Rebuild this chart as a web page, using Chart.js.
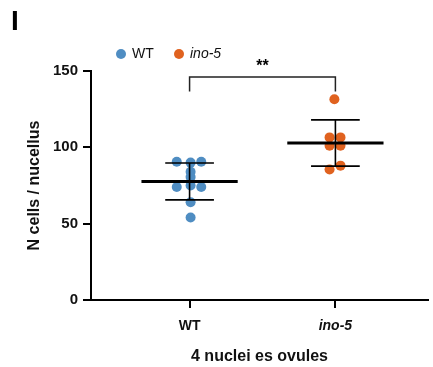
<!DOCTYPE html>
<html>
<head>
<meta charset="utf-8">
<script src="https://cdn.jsdelivr.net/npm/chart.js@4/dist/chart.umd.min.js"></script>
<style>
  html, body { margin: 0; padding: 0; background: #fff; }
  #wrap { width: 433px; height: 367px; position: relative; }
</style>
</head>
<body>
<div id="wrap"><canvas id="chart"></canvas></div>
<script>
// groups and values (N cells per nucellus)
const groups = ['WT', 'ino-5'];
const wtValues = [90.5, 90, 90.5, 84, 80.5, 74, 75, 74, 64, 54];
const wtJitter = [-0.088, 0.007, 0.08, 0.007, 0.007, -0.088, 0.007, 0.08, 0.007, 0.007];
const inoValues = [131.5, 106.5, 106.5, 101, 101, 88, 85.5];
const inoJitter = [-0.007, -0.04, 0.035, -0.04, 0.035, 0.035, -0.04];
const yTicks = [0, 50, 100, 150];
const sigLabel = '**';
const sigTop = 146;
const sigFoot = 136.5;

const blue = '#4f8dc2';
const orange = '#e0621f';
const FONT = "'Liberation Sans', Arial, Helvetica, sans-serif";

function mean(a) { return a.reduce((s, v) => s + v, 0) / a.length; }
function sd(a) {
    const m = mean(a);
    return Math.sqrt(a.reduce((s, v) => s + (v - m) * (v - m), 0) / (a.length - 1));
}

const seriesList = [
    {label: groups[0], values: wtValues, jitter: wtJitter, pos: 0, color: blue},
    {label: groups[1], values: inoValues, jitter: inoJitter, pos: 1, color: orange}
];

// mean ± SD, bracket, legend and panel letter
const overlay = {
    id: 'overlay',
    afterDatasetsDraw(chart) {
        const {ctx, scales: {x, y}} = chart;
        ctx.save();
        ctx.strokeStyle = '#000';
        seriesList.forEach(s => {
            const m = mean(s.values), d = sd(s.values);
            const cx = x.getPixelForValue(s.pos);
            // mean bar
            ctx.lineWidth = 3;
            ctx.beginPath();
            ctx.moveTo(x.getPixelForValue(s.pos - 0.33), y.getPixelForValue(m));
            ctx.lineTo(x.getPixelForValue(s.pos + 0.33), y.getPixelForValue(m));
            ctx.stroke();
            // sd whisker
            ctx.lineWidth = 1.6;
            ctx.beginPath();
            ctx.moveTo(cx, y.getPixelForValue(m + d));
            ctx.lineTo(cx, y.getPixelForValue(m - d));
            [m + d, m - d].forEach(v => {
                ctx.moveTo(x.getPixelForValue(s.pos - 0.167), y.getPixelForValue(v));
                ctx.lineTo(x.getPixelForValue(s.pos + 0.167), y.getPixelForValue(v));
            });
            ctx.stroke();
        });
        // significance bracket
        ctx.strokeStyle = '#222';
        ctx.lineWidth = 1.5;
        ctx.beginPath();
        ctx.moveTo(x.getPixelForValue(0), y.getPixelForValue(sigFoot));
        ctx.lineTo(x.getPixelForValue(0), y.getPixelForValue(sigTop));
        ctx.lineTo(x.getPixelForValue(1), y.getPixelForValue(sigTop));
        ctx.lineTo(x.getPixelForValue(1), y.getPixelForValue(sigFoot));
        ctx.stroke();
        ctx.fillStyle = '#000';
        ctx.font = 'bold 16px ' + FONT;
        ctx.textAlign = 'center';
        ctx.textBaseline = 'middle';
        ctx.fillText(sigLabel, x.getPixelForValue(0.5), 67);
        ctx.restore();
    },
    afterDraw(chart) {
        const ctx = chart.ctx;
        ctx.save();
        ctx.fillStyle = '#000';
        ctx.font = 'bold 28px ' + FONT;
        ctx.textBaseline = 'alphabetic';
        ctx.fillText('I', 11, 30);
        // legend
        ctx.textBaseline = 'middle';
        let lx = 121;
        seriesList.forEach((s, i) => {
            ctx.fillStyle = s.color;
            ctx.beginPath();
            ctx.arc(lx, 54, 5, 0, Math.PI * 2);
            ctx.fill();
            ctx.fillStyle = '#111';
            ctx.font = (i === 1 ? 'italic ' : '') + '14px ' + FONT;
            ctx.textAlign = 'left';
            ctx.fillText(s.label, lx + 11, 54);
            lx += 58;
        });
        ctx.restore();
    }
};

new Chart(document.getElementById('chart'), {
    type: 'scatter',
    data: {
        datasets: seriesList.map(s => ({
            label: s.label,
            data: s.values.map((v, i) => ({x: s.pos + s.jitter[i], y: v})),
            backgroundColor: s.color,
            borderWidth: 0,
            pointRadius: 5
        }))
    },
    options: {
        responsive: true,
        maintainAspectRatio: false,
        animation: false,
        layout: {padding: {left: 21, top: 71, right: 0, bottom: 0}},
        plugins: {
            legend: {display: false},
            tooltip: {enabled: false}
        },
        scales: {
            x: {
                type: 'linear',
                min: -0.676,
                max: 1.635,
                afterBuildTicks: scale => { scale.ticks = groups.map((g, i) => ({value: i})); },
                afterFit: scale => { scale.height = 67; },
                grid: {drawOnChartArea: false, color: '#000', lineWidth: 2, tickLength: 8},
                border: {color: '#000', width: 2},
                ticks: {
                    color: '#111',
                    padding: 10,
                    maxRotation: 0,
                    font: c => ({family: FONT, size: 14, weight: 'bold', style: c.index === 1 ? 'italic' : 'normal'}),
                    callback: v => groups[v]
                },
                title: {
                    display: true,
                    text: '4 nuclei es ovules',
                    color: '#111',
                    font: {family: FONT, size: 16, weight: 'bold'},
                    padding: {top: 4, bottom: 1}
                }
            },
            y: {
                min: 0,
                max: 150,
                afterBuildTicks: scale => { scale.ticks = yTicks.map(v => ({value: v})); },
                afterFit: scale => { scale.width = 70; },
                grid: {drawOnChartArea: false, color: '#000', lineWidth: 2, tickLength: 8},
                border: {color: '#000', width: 2},
                ticks: {
                    color: '#111',
                    padding: 5,
                    font: {family: FONT, size: 15, weight: 'bold'}
                },
                title: {
                    display: true,
                    text: 'N cells / nucellus',
                    color: '#111',
                    font: {family: FONT, size: 16, weight: 'bold'},
                    padding: {top: 4, bottom: 4}
                }
            }
        }
    },
    plugins: [overlay]
});
</script>
</body>
</html>
